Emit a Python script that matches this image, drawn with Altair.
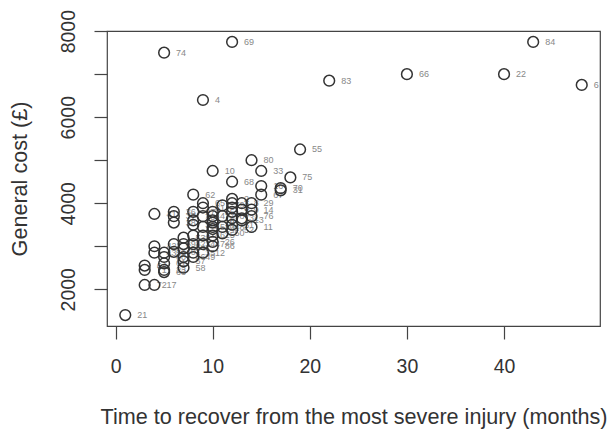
import altair as alt
import pandas as pd

# Point id labels, recovery time (months), general cost (GBP)
ids = [21, 74, 69, 4, 83, 66, 22, 84, 6, 55, 80, 10, 33, 68, 75, 70,
       62, 65, 67, 16, 31,
       2, 3, 5, 7,
       8, 9, 1, 13,
       29, 14, 11,
       15, 18, 19, 20, 24, 25, 26, 86,
       27, 28, 30, 32, 34, 35, 49,
       36, 37, 38, 39, 40,
       41, 42, 43, 17,
       44, 45, 46, 47, 12,
       48, 50,
       51, 52,
       53, 54, 56, 57, 58,
       59, 60, 61, 23, 63,
       64, 71, 72,
       73, 76, 77, 78, 79, 81, 82]
months = [1, 5, 12, 9, 22, 30, 40, 43, 48, 19, 14, 10, 15, 12, 18, 17,
          8, 9, 15, 15, 17,
          12, 12, 12, 12,
          13, 13, 13, 13,
          14, 14, 14,
          10, 10, 10, 10, 10, 10, 10, 10,
          8, 8, 8, 8, 8, 8, 8,
          6, 6, 6, 6, 6,
          4, 4, 4, 4,
          9, 9, 9, 9, 9,
          11, 11,
          12, 12,
          7, 7, 7, 7, 7,
          5, 5, 5, 5, 5,
          3, 3, 3,
          12, 14, 10, 11, 11, 9, 7]
cost = [1400, 7500, 7750, 6400, 6850, 7000, 7000, 7750, 6750, 5250, 5000, 4750, 4750, 4500, 4600, 4350,
        4200, 4000, 4200, 4400, 4300,
        4100, 4000, 3900, 3800,
        4000, 3850, 3650, 3600,
        4000, 3850, 3450,
        3800, 3600, 3550, 3450, 3400, 3250, 3100, 3000,
        3800, 3600, 3500, 3250, 3050, 2850, 2750,
        3800, 3700, 3550, 3050, 2870,
        3750, 3000, 2850, 2100,
        3700, 3450, 3250, 3050, 2850,
        3450, 3300,
        3500, 3380,
        3200, 2950, 2750, 2650, 2500,
        2850, 2750, 2600, 2450, 2400,
        2550, 2450, 2100,
        3650, 3700, 3700, 3700, 3950, 3900, 3050]

x_ticks = [0, 10, 20, 30, 40]
y_ticks = [2000, 3000, 4000, 5000, 6000, 7000, 8000]

df = pd.DataFrame({"id": [str(i) for i in ids], "months": months, "cost": cost})

# R-style 4% range extension
xr = max(months) - min(months)
yr = max(cost) - min(cost)
x_dom = [min(months) - 0.04 * xr, max(months) + 0.04 * xr]
y_dom = [min(cost) - 0.04 * yr, max(cost) + 0.04 * yr]

font = "Liberation Sans"

x_enc = alt.X("months:Q",
              scale=alt.Scale(domain=x_dom, nice=False, zero=False),
              axis=alt.Axis(values=x_ticks, title="Time to recover from the most severe injury (months)",
                            grid=False, domain=False, tickSize=13, tickColor="#444", tickWidth=1.2,
                            labelFontSize=19.5, labelFont=font, labelColor="#333", labelPadding=18,
                            titleFontSize=21.6, titleFont=font, titleFontWeight="normal", titleColor="#333",
                            titlePadding=31, format="d"))
y_enc = alt.Y("cost:Q",
              scale=alt.Scale(domain=y_dom, nice=False, zero=False),
              axis=alt.Axis(values=y_ticks, title="General cost (£)",
                            grid=False, domain=False, tickSize=13, tickColor="#444", tickWidth=1.2,
                            labelExpr="datum.value % 2000 == 0 ? format(datum.value, 'd') : ''",
                            labelAngle=270, labelAlign="center", labelBaseline="bottom",
                            labelFontSize=19.5, labelFont=font, labelColor="#333", labelPadding=16,
                            titleFontSize=21.6, titleFont=font, titleFontWeight="normal", titleColor="#333",
                            titlePadding=27))

base = alt.Chart(df)

labels = base.mark_text(align="left", baseline="middle", dx=12, fontSize=9, font=font,
                        color="#888", clip=True).encode(x=x_enc, y=y_enc, text="id:N")

points = base.mark_point(shape="circle", size=115, filled=False, stroke="#333",
                         strokeWidth=1.5, opacity=1).encode(x=x_enc, y=y_enc)

chart = alt.layer(labels, points).properties(
    width=493, height=295,
    autosize=alt.AutoSizeParams(type="none"),
    padding={"left": 107, "top": 31, "right": 11, "bottom": 112},
    background="white",
).configure_view(stroke="#444", strokeWidth=1.2)

chart.save("out.html", embed_options={"renderer": "svg", "actions": False})
